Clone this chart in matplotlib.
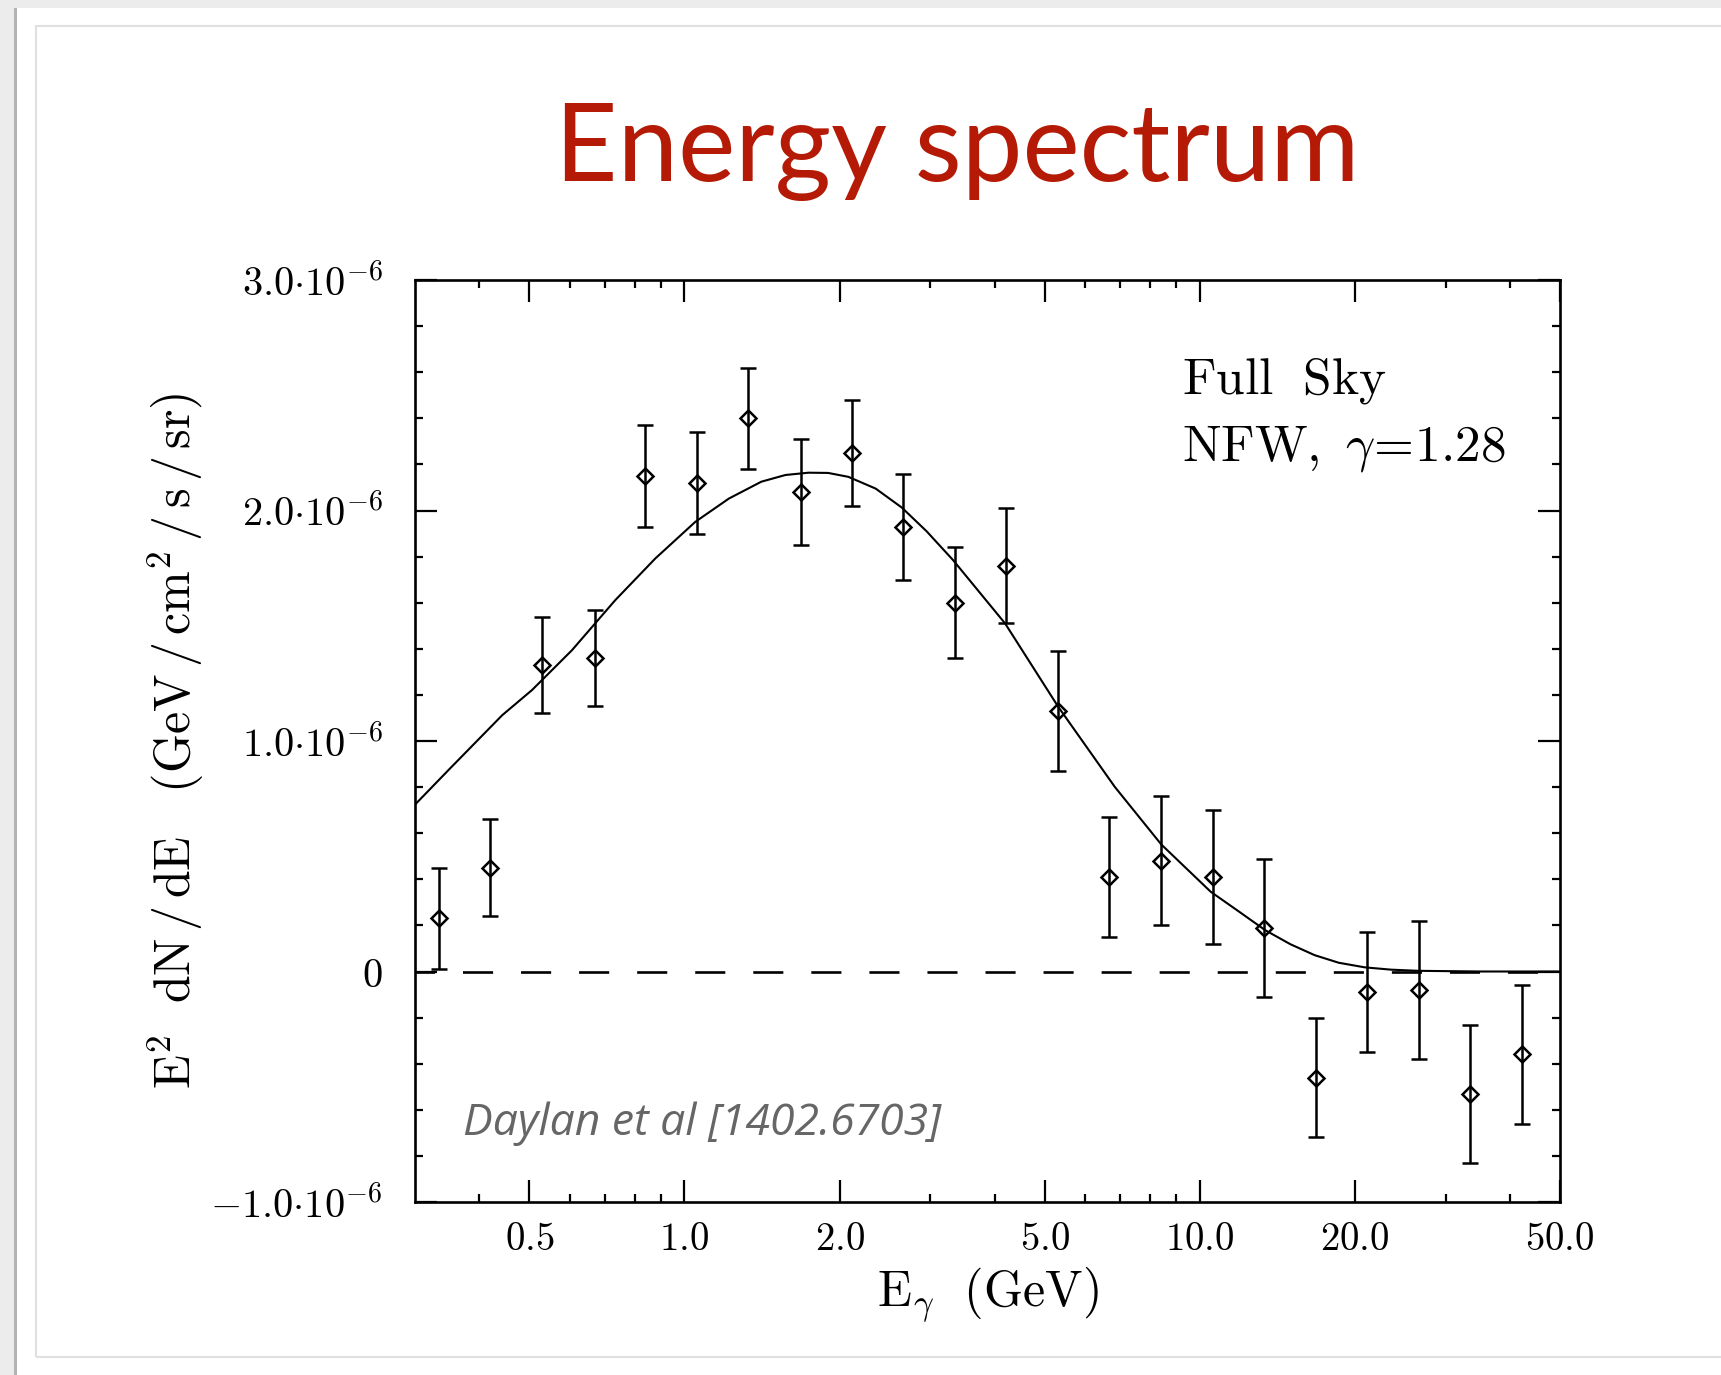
import matplotlib
matplotlib.use("Agg")
import matplotlib.pyplot as plt
from matplotlib.patches import Rectangle
from matplotlib.ticker import FixedLocator, NullFormatter

plt.rcParams["mathtext.fontset"] = "cm"

# data (flux in units of 1e-6 GeV/cm^2/s/sr)
energy = [0.334, 0.42, 0.53, 0.67, 0.84, 1.06, 1.33, 1.68, 2.11, 2.66, 3.35,
          4.21, 5.30, 6.68, 8.41, 10.6, 13.3, 16.8, 21.1, 26.6, 33.5, 42.2]
flux = [0.23, 0.45, 1.33, 1.36, 2.15, 2.12, 2.40, 2.08, 2.25, 1.93, 1.60,
        1.76, 1.13, 0.41, 0.48, 0.41, 0.19, -0.46, -0.09, -0.08, -0.53, -0.36]
flux_err = [0.22, 0.21, 0.21, 0.21, 0.22, 0.22, 0.22, 0.23, 0.23, 0.23, 0.24,
            0.25, 0.26, 0.26, 0.28, 0.29, 0.30, 0.26, 0.26, 0.30, 0.30, 0.30]

model_e = [0.30, 0.353, 0.443, 0.506, 0.605, 0.734, 0.878, 1.05, 1.22, 1.41,
           1.57, 1.74, 1.90, 2.08, 2.35, 2.64, 2.95, 3.32, 4.19, 5.31, 6.84,
           8.42, 10.5, 12.0, 13.4, 15.0, 16.7, 18.6, 20.9, 23.5, 26.5, 35.0, 50.0]
model_f = [0.724, 0.887, 1.112, 1.221, 1.394, 1.611, 1.792, 1.951, 2.052, 2.125,
           2.154, 2.164, 2.163, 2.146, 2.095, 2.013, 1.910, 1.785, 1.510, 1.149,
           0.801, 0.551, 0.346, 0.255, 0.179, 0.118, 0.071, 0.038, 0.018, 0.008,
           0.003, 0.0, 0.0]

x_major = [0.5, 1.0, 2.0, 5.0, 10.0, 20.0, 50.0]
x_labels = ["0.5", "1.0", "2.0", "5.0", "10.0", "20.0", "50.0"]
x_minor = [0.4, 0.6, 0.7, 0.8, 0.9, 3, 4, 6, 7, 8, 9, 30, 40]
y_major = [-1.0, 0.0, 1.0, 2.0, 3.0]
y_labels = [r"$-1.0{\cdot}10^{-6}$", r"$0$", r"$1.0{\cdot}10^{-6}$",
            r"$2.0{\cdot}10^{-6}$", r"$3.0{\cdot}10^{-6}$"]

W, H = 1721, 1375
fig = plt.figure(figsize=(W / 100, H / 100), dpi=100)
fig.patch.set_facecolor("#ececec")

# slide card
fig.add_artist(Rectangle((17 / W, 0), 1, 1 - 8 / H, transform=fig.transFigure,
                         facecolor="white", edgecolor="none", zorder=-5))
fig.add_artist(Rectangle((14 / W, 0), 3 / W, 1 - 8 / H, transform=fig.transFigure,
                         facecolor="#b4b4b4", edgecolor="none", zorder=-4))
fig.add_artist(Rectangle((36 / W, 18 / H), 1, 1 - 44 / H, transform=fig.transFigure,
                         facecolor="none", edgecolor="#e0e0e0", lw=1.5, zorder=-3))

fig.text(957 / W, 1 - 181 / H, "Energy spectrum", ha="center", va="baseline",
         fontsize=78, family="Lato", color="#b41a06")

ax = fig.add_axes([415 / W, 1 - 1202 / H, 1145 / W, 922 / H])
ax.set_xscale("log")
ax.set_xlim(0.3, 50)
ax.set_ylim(-1e-6, 3e-6)

ax.axhline(0, color="black", lw=1.9, ls=(4, (11.4, 10.6)), zorder=1)
ax.plot(model_e, [f * 1e-6 for f in model_f], color="black", lw=1.5, zorder=2)
ax.errorbar(energy, [f * 1e-6 for f in flux], yerr=[e * 1e-6 for e in flux_err],
            fmt="D", ms=8.5, mfc="none", mec="black", mew=1.8, color="black",
            elinewidth=1.8, capsize=6, capthick=1.8, zorder=3)

ax.xaxis.set_major_locator(FixedLocator(x_major))
ax.xaxis.set_minor_locator(FixedLocator(x_minor))
ax.xaxis.set_minor_formatter(NullFormatter())
ax.set_xticklabels([r"$%s$" % s for s in x_labels])
ax.set_yticks([v * 1e-6 for v in y_major])
ax.set_yticklabels(y_labels)
ax.yaxis.set_minor_locator(FixedLocator([v * 1e-6 for v in
                                         [-0.8, -0.6, -0.4, -0.2, 0.2, 0.4, 0.6, 0.8,
                                          1.2, 1.4, 1.6, 1.8, 2.2, 2.4, 2.6, 2.8]]))

for s in ax.spines.values():
    s.set_linewidth(1.9)
ax.tick_params(which="both", direction="in", top=True, right=True, width=1.6)
ax.tick_params(which="major", length=15.5)
ax.tick_params(which="minor", length=6)
ax.tick_params(axis="x", which="major", labelsize=28, pad=13)
ax.tick_params(axis="y", which="major", labelsize=29, pad=23)

ax.set_xlabel(r"$\mathrm{E}_\gamma\ \ (\mathrm{GeV})$", fontsize=36)
ax.xaxis.set_label_coords(0.5, -0.101)
ax.xaxis.label.set_va("center")
ax.set_ylabel(r"$\mathrm{E}^2\ \ \mathrm{dN}\,/\,\mathrm{dE}\ \ \ (\mathrm{GeV}\,/\,"
              r"\mathrm{cm}^2\,/\,\mathrm{s}\,/\,\mathrm{sr})$", fontsize=36)
ax.yaxis.set_label_coords(-0.2087, 0.5)
ax.yaxis.label.set_va("center")

ax.text(0.670, 0.8774, r"$\mathrm{Full\ \ Sky}$", transform=ax.transAxes,
        fontsize=37, va="baseline")
ax.text(0.670, 0.8037, r"$\mathrm{NFW,}\ \gamma\!=\!1.28$", transform=ax.transAxes,
        fontsize=37, va="baseline")

fig.text(463 / W, 1 - 1135 / H, "Daylan et al [1402.6703]", ha="left",
         va="baseline", fontsize=32, family="Open Sans", style="italic",
         color="#666666")

fig.savefig("out.png", dpi=100, facecolor=fig.get_facecolor())
